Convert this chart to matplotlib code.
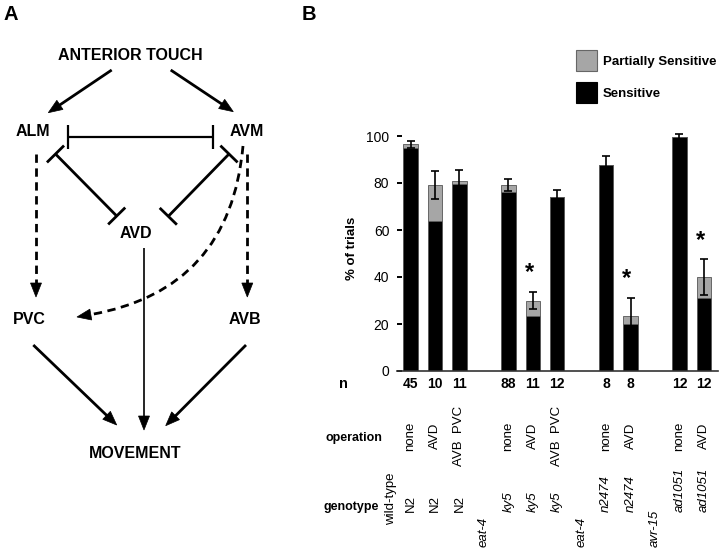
import numpy as np
import matplotlib
matplotlib.use("Agg")
import matplotlib.pyplot as plt
from matplotlib.patches import Polygon, PathPatch, Patch
from matplotlib.path import Path
from matplotlib.transforms import blended_transform_factory

plt.rcParams['font.family'] = ['Liberation Sans', 'DejaVu Sans']

# ---------------- data (panel B) ----------------
slots = list(range(1, 14))
n_labels = ["45", "10", "11", "", "88", "11", "12", "", "8", "8", "", "12", "12"]
operations = ["none", "AVD", "AVB  PVC", "", "none", "AVD", "AVB  PVC", "",
              "none", "AVD", "", "none", "AVD"]
genotypes = ["N2", "N2", "N2", "eat-4", "ky5", "ky5", "ky5", "eat-4",
             "n2474", "n2474", "avr-15", "ad1051", "ad1051"]
header_label = "wild-type"
total = [96.5, 79, 81, np.nan, 79, 30, 74, np.nan, 87.5, 23.5, np.nan, 99.5, 40]
sensitive = [95, 64, 79.5, np.nan, 76, 23.5, 74, np.nan, 87.5, 20, np.nan, 99.5, 31]
err = [1.5, 6, 4.5, np.nan, 2.5, 3.7, 3, np.nan, 4, 7.7, np.nan, 1.5, 7.5]
significant = [False, False, False, False, False, True, False, False, False, True,
               False, False, True]
yticks = [0, 20, 40, 60, 80, 100]

GRAY = '#a6a6a6'

fig = plt.figure(figsize=(7.2, 5.51), dpi=100)

# overlay axes in pixel coordinates for diagram / labels
ov = fig.add_axes([0, 0, 1, 1])
ov.set_xlim(0, 720)
ov.set_ylim(551, 0)
ov.axis('off')

# ---------------- panel A diagram ----------------
DFS = 11.5
def label(x, y, s):
    ov.text(x, y, s, ha='center', va='center', fontsize=DFS, fontweight='bold')

label(130, 55, "ANTERIOR TOUCH")
label(33, 131, "ALM")
label(247, 131, "AVM")
label(136, 233, "AVD")
label(29, 319, "PVC")
label(245, 319, "AVB")
label(135, 453, "MOVEMENT")
ov.text(11, 14, "A", ha='center', va='center', fontsize=14.5, fontweight='bold')
ov.text(309, 14, "B", ha='center', va='center', fontsize=14.5, fontweight='bold')

HL, HW = 14, 5.5

def head(tip, d):
    d = np.asarray(d, float); d = d / np.hypot(*d)
    n = np.array([-d[1], d[0]])
    tip = np.asarray(tip, float)
    base = tip - d * HL
    ov.add_patch(Polygon([tip, base + n * HW, base - n * HW], closed=True,
                         facecolor='black', edgecolor='black', lw=0.5))
    return base

def arrow(p0, p1, dashed=False, lw=2.0):
    p0 = np.asarray(p0, float); p1 = np.asarray(p1, float)
    base = head(p1, p1 - p0)
    ls = (0, (3, 2)) if dashed else '-'
    ov.plot([p0[0], base[0] + (p1 - p0)[0] * 0.01], [p0[1], base[1] + (p1 - p0)[1] * 0.01],
            color='black', lw=lw, ls=ls, solid_capstyle='butt')

def tcap(c, d, half=12, lw=2.0):
    d = np.asarray(d, float); d = d / np.hypot(*d)
    n = np.array([-d[1], d[0]])
    c = np.asarray(c, float)
    a, b = c + n * half, c - n * half
    ov.plot([a[0], b[0]], [a[1], b[1]], color='black', lw=lw, solid_capstyle='butt')

def inhib(p0, p1, lw=2.0, both=True, half=12):
    ov.plot([p0[0], p1[0]], [p0[1], p1[1]], color='black', lw=lw, solid_capstyle='butt')
    d = np.subtract(p1, p0)
    tcap(p1, d, half, lw)
    if both:
        tcap(p0, d, half, lw)

arrow((111.7, 70), (48.3, 112.7))
arrow((170.7, 70), (233.3, 111.7))
inhib((68.3, 136.7), (213.3, 136.7), lw=1.6)
inhib((55.5, 154), (116.7, 216))
inhib((229, 154), (168.3, 216.3))
arrow((36, 154), (36, 297), dashed=True)
arrow((247.3, 154), (247.3, 297), dashed=True)
# curved dashed AVM -> PVC
P0, P1, P2 = np.array([243, 146.]), np.array([230, 290.]), np.array([77, 317.])
d_end = P2 - P1
base = head(P2, d_end)
path = Path([P0, P1, base], [Path.MOVETO, Path.CURVE3, Path.CURVE3])
ov.add_patch(PathPatch(path, facecolor='none', edgecolor='black', lw=2.0,
                       linestyle=(0, (3, 2))))
arrow((33.3, 345), (116.7, 425))
arrow((144, 248), (144, 430), lw=1.2)
arrow((246, 345), (165.7, 425.7))

# ---------------- panel B bar chart ----------------
x0_px, x1_px = 397, 718
y0_px, ppu = 371, 2.35
ymax = 110
ax = fig.add_axes([x0_px / 720, (551 - y0_px) / 551, (x1_px - x0_px) / 720, ymax * ppu / 551])
slot_px0, slot_dx = 410.5, 24.45
xl = 1 + (x0_px - slot_px0) / slot_dx
xr = 1 + (x1_px - slot_px0) / slot_dx
ax.set_xlim(xl, xr)
ax.set_ylim(0, ymax)
ax.patch.set_alpha(0)

xs = np.array(slots, float)
tot = np.array(total, float); sen = np.array(sensitive, float); er = np.array(err, float)
m = ~np.isnan(tot)
bw = 0.59
ax.bar(xs[m], sen[m], width=bw, color='black', edgecolor='#555555', lw=0.6, zorder=2)
ax.bar(xs[m], tot[m] - sen[m], bottom=sen[m], width=bw, color=GRAY,
       edgecolor='#555555', lw=0.6, zorder=2)
ax.errorbar(xs[m], tot[m], yerr=er[m], fmt='none', ecolor='black', elinewidth=1.2,
            capsize=3, capthick=1.2, zorder=3, clip_on=False)
for x, t, e, s in zip(xs, tot, er, significant):
    if s:
        ax.text(x - 0.15, t + e + 8, '*', ha='center', va='center', fontsize=17,
                fontweight='bold', clip_on=False)

for sp in ['top', 'right', 'left']:
    ax.spines[sp].set_visible(False)
ax.spines['bottom'].set_linewidth(1.2)
ax.spines['bottom'].set_color('#333333')
ax.set_xticks([])
ax.set_yticks(yticks)
ax.tick_params(axis='y', direction='in', length=3.6, width=1.4, pad=5.5,
               labelsize=10, colors='black')

ov.text(351.7, 248, "% of trials", rotation=90, ha='center', va='center',
        fontsize=9.5, fontweight='bold')

# row labels
ov.text(343, 384, "n", ha='center', va='center', fontsize=10.5, fontweight='bold')
ov.text(382, 438, "operation", ha='right', va='center', fontsize=9, fontweight='bold')
ov.text(379, 507, "genotype", ha='right', va='center', fontsize=9, fontweight='bold')

tr = blended_transform_factory(ax.transData, ov.transData)
for x, s in zip(xs, n_labels):
    if s:
        ov.text(x, 384, s, transform=tr, ha='center', va='center', fontsize=10,
                fontweight='bold')
for x, s in zip(xs, operations):
    if s:
        ov.text(x, 436, s, transform=tr, ha='center', va='center', rotation=90,
                fontsize=9.5)
for x, s in zip(xs, genotypes):
    upright = (s == "N2")
    header = s in ("eat-4", "avr-15")
    yb = 547 if header else 512
    ov.text(x, yb, s, transform=tr, ha='center',
            va='bottom', rotation=90, fontsize=9.5,
            style='normal' if upright else 'italic')
ov.text(0.22, 525, header_label, transform=tr, ha='center', va='bottom',
        rotation=90, fontsize=9.5)

# legend
handles = [Patch(facecolor=GRAY, edgecolor='#666666', lw=0.8),
           Patch(facecolor='black', edgecolor='black', lw=0.8)]
leg = fig.legend(handles, ["Partially Sensitive", "Sensitive"], loc='upper left',
                 bbox_to_anchor=(576 / 720, 1 - 50 / 551), frameon=False,
                 borderpad=0, borderaxespad=0, handlelength=1.6, handleheight=2.1,
                 handletextpad=0.45, labelspacing=0.8,
                 prop={'weight': 'bold', 'size': 9.5})

fig.savefig("out.png", dpi=100)
